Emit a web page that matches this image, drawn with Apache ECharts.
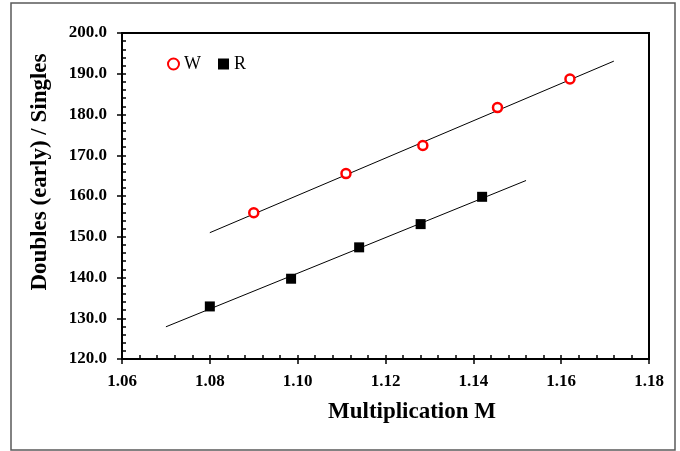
<!DOCTYPE html>
<html>
<head>
<meta charset="utf-8">
<script src="https://cdn.jsdelivr.net/npm/echarts@6/dist/echarts.min.js"></script>
<style>
  html, body { margin: 0; padding: 0; background: #fff; }
  #chart { width: 680px; height: 451px; }
</style>
</head>
<body>
<div id="chart"></div>
<script>
// values
const xTicks = [1.06, 1.18];
const yTicks = [120, 200];

const wM = [1.090, 1.111, 1.1285, 1.1455, 1.162];
const wRatio = [155.9, 165.5, 172.4, 181.7, 188.7];
const rM = [1.080, 1.0985, 1.114, 1.128, 1.142];
const rRatio = [132.9, 139.7, 147.4, 153.1, 159.8];

// trend line end points
const wFitM = [1.080, 1.172];
const wFitRatio = [151.0, 193.1];
const rFitM = [1.070, 1.152];
const rFitRatio = [127.9, 163.8];

const pairs = (xs, ys) => xs.map((x, i) => [x, ys[i]]);

const serif = "Liberation Serif";
let myChart = echarts.init(document.getElementById("chart"));

let baseX = {
    type: "value", min: xTicks[0], max: xTicks[1], interval: 0.02,
    splitLine: { show: false },
};
let baseY = {
    type: "value", min: yTicks[0], max: yTicks[1], interval: 10,
    splitLine: { show: false },
};

let option = {
    animation: false,
    backgroundColor: "#fff",
    grid: {
        left: 122, right: 31, top: 33, bottom: 92,
        show: true, borderColor: "#000", borderWidth: 2,
    },
    legend: {
        left: 162, top: 50,
        itemWidth: 11, itemHeight: 11, itemGap: 17, itemStyle: { opacity: 1 },
        textStyle: { fontFamily: serif, fontSize: 18, color: "#000" },
        data: ["W", "R"],
    },
    xAxis: [
        Object.assign({}, baseX, {
            axisLine: { lineStyle: { color: "#000", width: 2 } },
            axisTick: { inside: true, length: 4, lineStyle: { color: "#000", width: 1.5 } },
            minorTick: { show: true, splitNumber: 5, length: 4, lineStyle: { color: "#000", width: 1.5 } },
            axisLabel: {
                margin: 14, color: "#000", fontFamily: serif, fontWeight: "bold", fontSize: 17,
                formatter: (v) => v.toFixed(2),
            },
        }),
        Object.assign({}, baseX, {
            position: "bottom",
            axisLine: { show: false },
            axisTick: { inside: false, length: 5, lineStyle: { color: "#000", width: 1.5 } },
            axisLabel: { show: false },
        }),
    ],
    yAxis: [
        Object.assign({}, baseY, {
            axisLine: { show: true, lineStyle: { color: "#000", width: 2 } },
            axisTick: { show: true, inside: true, length: 4, lineStyle: { color: "#000", width: 1.5 } },
            minorTick: { show: true, splitNumber: 5, length: 4, lineStyle: { color: "#000", width: 1.5 } },
            axisLabel: {
                margin: 15, color: "#000", fontFamily: serif, fontWeight: "bold", fontSize: 17,
                formatter: (v) => v.toFixed(1),
            },
        }),
        Object.assign({}, baseY, {
            position: "left",
            axisLine: { show: false },
            axisTick: { show: true, inside: false, length: 5, lineStyle: { color: "#000", width: 1.5 } },
            axisLabel: { show: false },
        }),
    ],
    series: [
        {
            name: "W fit", type: "line", data: pairs(wFitM, wFitRatio),
            symbol: "none", lineStyle: { color: "#000", width: 1 }, z: 2,
        },
        {
            name: "R fit", type: "line", data: pairs(rFitM, rFitRatio),
            symbol: "none", lineStyle: { color: "#000", width: 1 }, z: 2,
        },
        {
            name: "W", type: "scatter", data: pairs(wM, wRatio),
            symbol: "circle", symbolSize: 9,
            itemStyle: { color: "#fff", borderColor: "#ff0000", borderWidth: 2.5, opacity: 1 }, z: 3,
        },
        {
            name: "R", type: "scatter", data: pairs(rM, rRatio),
            symbol: "rect", symbolSize: 10,
            itemStyle: { color: "#000", opacity: 1 }, z: 3,
        },
    ],
    graphic: [
        {
            type: "rect", silent: true,
            shape: { x: 11, y: 3, width: 664, height: 447 },
            style: { fill: "none", stroke: "#5a5a5a", lineWidth: 1.5 },
        },
        {
            type: "text", x: 412, y: 412,
            style: {
                text: "Multiplication M", fill: "#000", fontFamily: serif, fontWeight: "bold",
                fontSize: 23, align: "center", verticalAlign: "middle",
            },
        },
        {
            type: "text", x: 40, y: 172, rotation: Math.PI / 2,
            style: {
                text: "Doubles (early) / Singles", fill: "#000", fontFamily: serif, fontWeight: "bold",
                fontSize: 23, align: "center", verticalAlign: "middle",
            },
        },
    ],
};

myChart.setOption(option);
window.addEventListener("resize", function () {
    myChart.resize();
});
</script>
</body>
</html>
